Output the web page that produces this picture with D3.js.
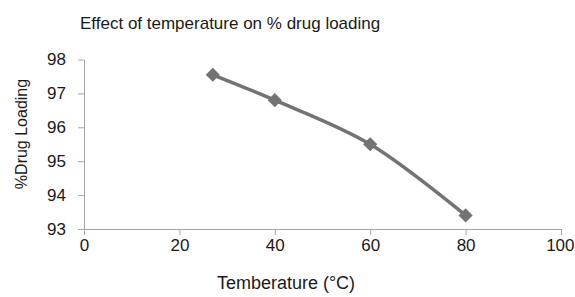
<!DOCTYPE html>
<html>
<head>
<meta charset="utf-8">
<script src="https://cdn.jsdelivr.net/npm/d3@7"></script>
<style>
  body { margin: 0; background: #fff; }
  text { font-family: "Liberation Sans", Arial, sans-serif; fill: #1a1a1a; }
</style>
</head>
<body>
<script>
const width = 575;
const height = 297;

// data
const temperature = [27, 40, 60, 80];
const drugLoading = [97.55, 96.8, 95.5, 93.4];
const xTicks = [0, 20, 40, 60, 80, 100];
const yTicks = [93, 94, 95, 96, 97, 98];

const margin = { left: 84, right: 14, top: 59.5, bottom: 68 };

const svg = d3.select("body")
    .append("svg")
    .attr("width", width)
    .attr("height", height);

const x = d3.scaleLinear()
    .domain([0, 100])
    .range([margin.left, width - margin.right]);

const y = d3.scaleLinear()
    .domain([93, 98])
    .range([height - margin.bottom, margin.top]);

const axisColor = "#a6a6a6";

// x axis
const xAxis = svg.append("g")
    .attr("transform", "translate(0," + y(93) + ")")
    .call(d3.axisBottom(x).tickValues(xTicks).tickFormat(d3.format("d"))
        .tickSize(6).tickPadding(4).tickSizeOuter(0));

// y axis
const yAxis = svg.append("g")
    .attr("transform", "translate(" + x(0) + ",0)")
    .call(d3.axisLeft(y).tickValues(yTicks).tickFormat(d3.format("d"))
        .tickSize(6).tickPadding(12).tickSizeOuter(0));

[xAxis, yAxis].forEach(function(g) {
    g.select(".domain").attr("stroke", axisColor).attr("stroke-width", 1);
    g.selectAll(".tick line").attr("stroke", axisColor);
    g.selectAll(".tick text")
        .attr("fill", "#1a1a1a")
        .style("font-size", "17px")
        .style("font-family", "'Liberation Sans', Arial, sans-serif");
});

// keep the last x label inside the frame, as the original does
xAxis.selectAll(".tick text")
    .filter(function(d) { return d === 100; })
    .attr("text-anchor", "end")
    .attr("dx", "13");

// smoothed series line
const line = d3.line()
    .x(function(d, i) { return x(temperature[i]); })
    .y(function(d) { return y(d); })
    .curve(d3.curveCatmullRom);

svg.append("path")
    .datum(drugLoading)
    .attr("d", line)
    .attr("fill", "none")
    .attr("stroke", "#737373")
    .attr("stroke-width", 3.5);

// diamond markers
svg.selectAll(".marker")
    .data(drugLoading)
    .enter()
    .append("path")
    .attr("class", "marker")
    .attr("d", d3.symbol().type(d3.symbolSquare).size(100))
    .attr("transform", function(d, i) {
        return "translate(" + x(temperature[i]) + "," + y(d) + ") rotate(45)";
    })
    .attr("fill", "#737373");

// title
svg.append("text")
    .attr("x", 80)
    .attr("y", 29)
    .style("font-size", "17px")
    .text("Effect of temperature on % drug loading");

// x label
svg.append("text")
    .attr("x", 286)
    .attr("y", 289)
    .attr("text-anchor", "middle")
    .style("font-size", "18px")
    .text("Temberature (°C)");

// y label
svg.append("text")
    .attr("transform", "translate(27,134) rotate(-90)")
    .attr("text-anchor", "middle")
    .style("font-size", "16px")
    .text("%Drug Loading");
</script>
</body>
</html>
